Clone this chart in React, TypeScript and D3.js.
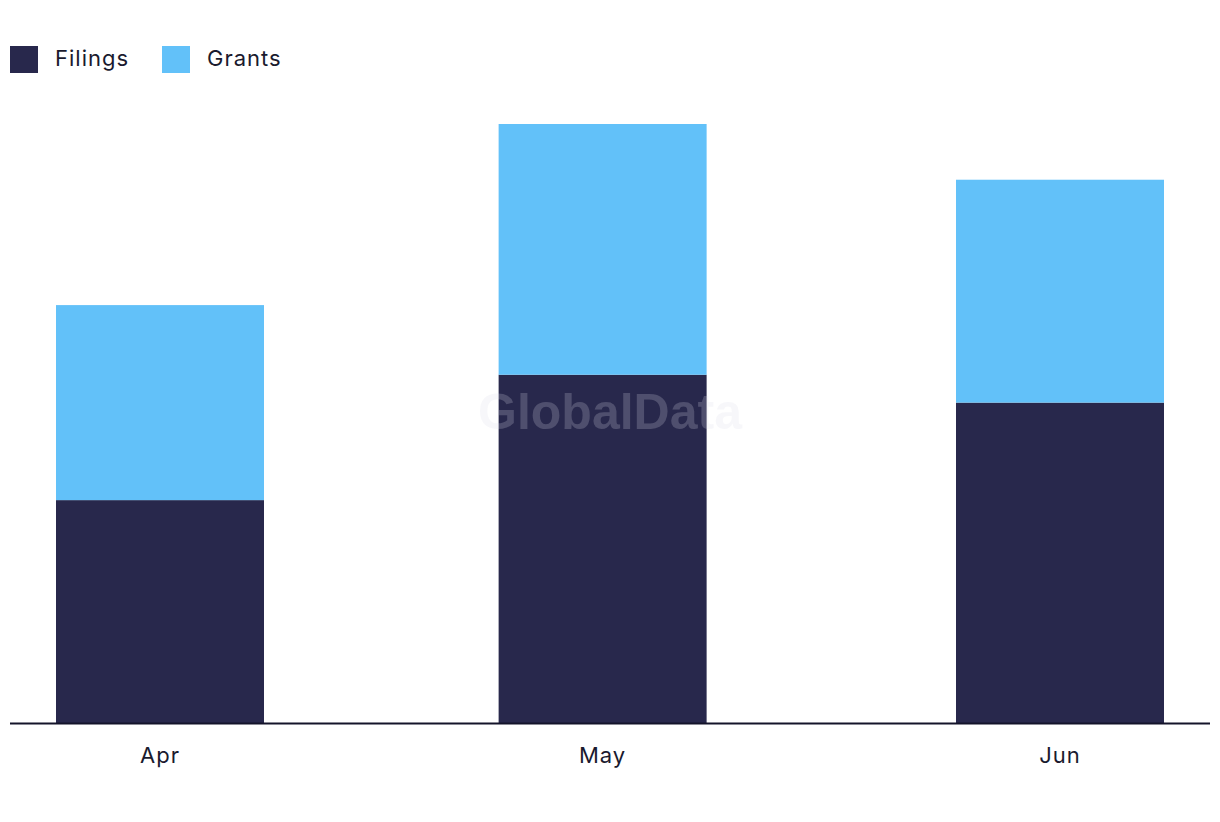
import React from "react";
import * as d3 from "d3";

const months = ["2024-04-01", "2024-05-01", "2024-06-01"];
const monthLabels = ["Apr", "May", "Jun"];
const filings = [16, 25, 23];
const grants = [14, 18, 16];
const seriesNames = ["Filings", "Grants"];
const seriesColors = ["#28284c", "#62c1f9"];

const W = 1220;
const H = 822;

export default function App() {
  const parse = d3.utcParse("%Y-%m-%d");
  const dates = months.map((m) => parse(m) as Date);
  const x = d3.scaleUtc().domain([dates[0], dates[dates.length - 1]]).range([160, 1060]);
  const totals = filings.map((f, i) => f + grants[i]);
  const y = d3.scaleLinear().domain([0, d3.max(totals) as number]).range([723, 124]);
  const rows = dates.map((d, i) => ({ date: d, Filings: filings[i], Grants: grants[i] }));
  const stack = d3.stack<any>().keys(seriesNames)(rows);
  const barW = 208;
  const font = "Inter, 'Noto Sans', sans-serif";

  return (
    <div style={{ position: "absolute", left: 0, top: 0 }}>
      <svg width={W} height={H} style={{ display: "block", background: "#fff" }}>
        {/* legend */}
        {seriesNames.map((name, i) => (
          <g key={name} transform={`translate(${10 + i * 152},46)`}>
            <rect width={28} height={27} fill={seriesColors[i]} />
            <text x={45} y={20} fontFamily={font} fontSize={22} letterSpacing={1} fill="#1a1a2e">
              {name}
            </text>
          </g>
        ))}
        {/* bars */}
        {stack.map((layer, li) => (
          <g key={layer.key} fill={seriesColors[li]}>
            {layer.map((seg, i) => (
              <rect
                key={i}
                x={x(rows[i].date) - barW / 2}
                y={y(seg[1])}
                width={barW}
                height={y(seg[0]) - y(seg[1])}
              />
            ))}
          </g>
        ))}
        {/* watermark */}
        <text
          x={610}
          y={429}
          textAnchor="middle"
          fontFamily="'Liberation Sans', Arial, sans-serif"
          fontWeight="bold"
          fontSize={50}
          fill="#dcdce6"
          fillOpacity={0.22}
        >
          GlobalData
        </text>
        {/* axis */}
        <line x1={10} x2={1210} y1={723.5} y2={723.5} stroke="#14142a" strokeWidth={2} />
        {dates.map((d, i) => (
          <text
            key={i}
            x={x(d)}
            y={763}
            textAnchor="middle"
            fontFamily={font}
            fontSize={22}
            letterSpacing={1}
            fill="#1a1a2e"
          >
            {monthLabels[i]}
          </text>
        ))}
      </svg>
    </div>
  );
}
